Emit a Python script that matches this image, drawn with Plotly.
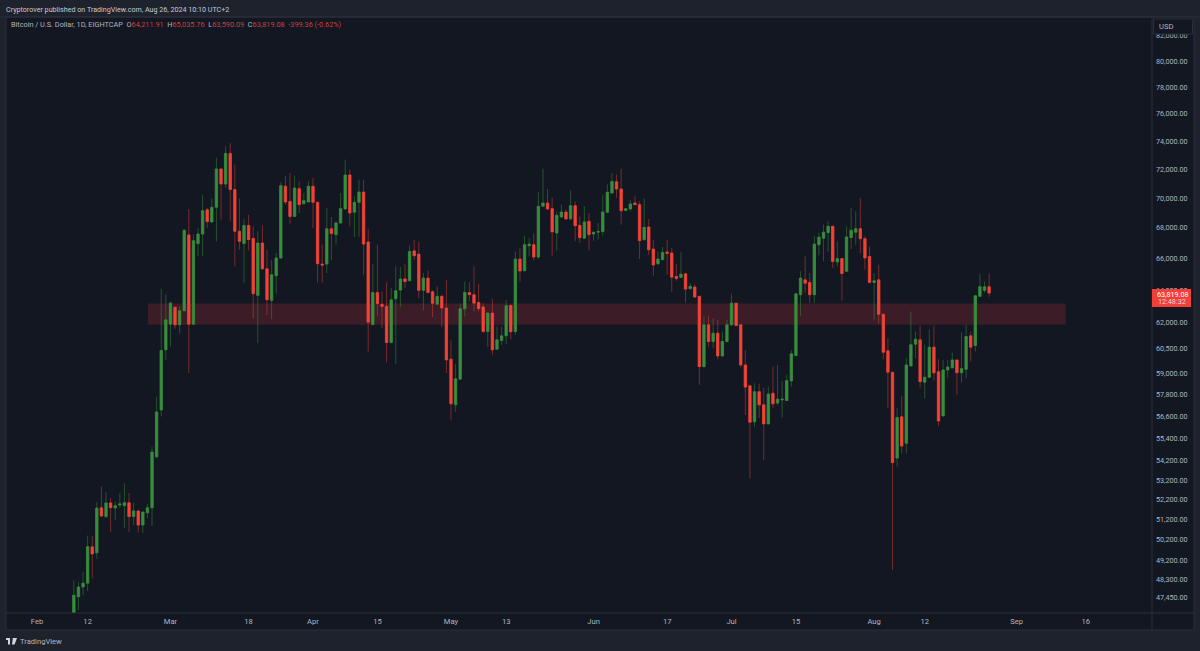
import pandas as pd
import plotly.graph_objects as go

# daily candles, first one is Feb 9 2024
start_date = "2024-02-09"
opens = [45300,47490,47940,48120,49850,49560,51780,51340,52030,51770,51920,51890,52040,51340,51620,50920,51530,51780,54420,56960,
         60390,61920,62950,61880,62730,67540,61920,66970,67600,69220,68400,69380,72020,70970,73120,70590,67780,66970,68170,67310,
         63680,67010,65350,63370,64910,66040,70820,69780,68770,70650,69630,69740,70820,69720,65650,65650,67940,67560,68330,69270,
         71600,69050,69720,70420,67080,61900,63850,63130,63000,60820,63470,64010,64710,64600,66500,66290,63990,64760,63900,63130,
         63620,62900,59840,57240,58690,62850,63850,63720,63240,62970,61480,62590,60430,60940,61220,63060,61480,65970,65230,66830,
         66900,66100,69450,69670,69290,67670,68730,69060,68600,69490,68170,67320,68440,67600,67720,67760,69040,70360,71130,70630,
         69170,69270,69670,69560,67230,68060,66620,65670,65930,66430,66360,64860,64800,65030,64090,64200,63620,59410,61880,60880,
         61380,60030,60880,61880,63200,61880,59510,58310,56310,57980,57240,56190,57890,57340,57520,57480,58590,60050,63720,64650,
         64490,63720,66900,67320,67690,68110,65790,66000,65190,67360,67720,67950,67290,66140,64490,64650,62520,60330,59090,54350,
         56580,55140,59450,60720,60980,58520,58800,60550,59120,56630,59220,59340,59800,59060,59260,61220,60640,63620,63990,64211.91]
closes = [47560,47940,48120,49860,49510,51770,51370,52030,51790,51890,51980,52040,51340,51620,50920,51570,51780,54670,56850,60350,
          62180,63200,61880,62730,67840,61920,67160,67600,69150,68420,69380,72020,70970,73120,70590,67780,67120,68170,67230,63780,
          67010,65350,63410,64970,66040,70860,69740,68770,70700,69560,69830,70820,69720,65670,65590,67940,67630,68330,69290,71600,
          69000,69720,70420,66940,62040,63850,63170,63000,60820,63410,63970,64700,64540,66460,66180,63990,64760,63860,63190,63620,
          62900,59800,57300,58710,62850,63860,63720,63200,62870,61480,62590,60390,60980,61220,63040,61460,65970,65210,66900,66940,
          66100,69450,69670,69270,67740,68840,69060,68600,69490,68150,67360,68400,67560,67710,67760,69060,70400,71150,70630,69150,
          69290,69610,69560,67160,68040,66570,65590,65970,66400,66340,64820,64730,65010,64070,64240,63580,59410,61880,60880,61380,
          60030,60880,61880,63200,61840,59510,58240,56280,57980,57240,56190,57850,57300,57560,57560,58610,60160,63780,64760,64440,
          63720,66940,67390,67720,68110,65820,66000,65050,67410,67850,67950,67290,66040,64490,64590,62520,60250,59090,54110,56540,
          54990,59510,60690,61020,58550,58800,60550,59060,56350,59220,59390,59800,59060,59300,61180,60550,63660,64220,64211,63819.08]
highs = [48260,48180,48640,50400,50370,52080,52860,52600,52280,52080,52530,53030,52530,52030,51670,51570,51980,54940,57700,64090,
         63740,63300,62950,63000,67950,69270,67560,68000,70200,69330,69970,72800,72020,73640,73850,72320,69970,68620,68880,68110,
         67780,68170,66570,65930,66360,71100,71550,71740,71550,71150,70360,71150,71390,69720,66900,69330,68730,68440,70360,72680,
         71970,70130,71270,71270,67950,65670,66900,63920,64500,64130,65500,65460,65670,66830,67230,67080,65080,65230,63990,64260,
         63720,64650,60980,59570,63170,64540,64500,65500,64400,63200,62640,63450,61780,61780,63410,63060,66460,66680,67500,67340,
         67630,70400,72040,70630,70020,69110,69560,69220,70540,69780,68770,69450,69000,67780,68330,70240,70950,71740,71620,72040,
         69330,69850,70170,69780,69970,68600,67230,66460,66750,67230,66680,65670,66410,65080,64460,64360,63660,62380,62430,62280,
         62180,61480,62180,63780,63200,61920,60390,58370,58460,58420,58180,58270,59410,59510,58590,58940,60390,63820,65190,66140,
         65080,67470,67690,68220,68440,68150,67120,66040,68110,69330,69110,70020,67470,66780,65080,65610,62520,61080,59090,57050,
         57750,59900,62690,61480,61840,60690,61620,61820,59840,59800,59800,60230,59800,61420,61880,61480,63660,65010,64540,65035.76]
lows = [45250,46860,47560,47750,48350,49260,51320,51270,50570,51170,51770,50770,50570,50920,50570,50520,51270,50870,54330,56600,
        59800,60570,61640,61340,62700,59040,61880,66140,66140,68000,68330,67120,68550,70700,68440,65500,66570,64440,66530,62280,
        60780,65290,62490,62220,63780,65970,69560,68290,68730,69000,69560,69720,68000,64490,64440,65080,65890,66900,68290,69220,
        68110,67410,67410,64970,60290,61840,62380,61680,59660,60780,59570,62960,64130,64540,65930,63510,62750,63820,62350,63130,
        61740,59040,56410,56860,58650,62380,63300,62690,62690,61380,60550,60100,60390,60680,60740,61020,61280,64540,65190,66140,
        65890,65970,69410,69220,66180,66530,68660,68550,68550,67120,67010,67280,66530,67160,67230,67500,69000,70310,70020,68220,
        69110,69110,69560,65970,67180,66240,64900,65590,65890,64970,63920,64600,64760,63240,64030,63530,58370,59370,60570,60490,
        59840,59990,60840,61820,61780,59370,56680,53290,56010,56500,54250,56150,57050,57240,56530,57460,58270,60030,62430,63850,
        63200,63200,66210,65820,66460,65400,65500,63350,65170,66620,66900,66360,65290,64440,62180,61940,59840,57050,48740,53890,
        54600,54600,59410,59900,58210,57610,58750,58610,56080,56590,58750,59320,57800,58500,58750,59700,60290,63580,63850,63590.09]

band_low = 61880
band_high = 63170
band_dates = ["2024-02-25 03:00", "2024-09-11 16:00"]
view_range = ["2024-01-25 06:00", "2024-09-30 10:00"]

price_ticks = [82000, 80000, 78000, 76000, 74000, 72000, 70000, 68000, 66000, 64000, 62000, 60500, 59000, 57800,
               56600, 55400, 54200, 53200, 52200, 51200, 50200, 49200, 48300, 47450]
date_ticks = ["2024-02-01", "2024-02-12", "2024-03-01", "2024-03-18", "2024-04-01", "2024-04-15", "2024-05-01", "2024-05-13",
              "2024-06-01", "2024-06-17", "2024-07-01", "2024-07-15", "2024-08-01", "2024-08-12", "2024-09-01", "2024-09-16"]
date_labels = ["Feb", "12", "Mar", "18", "Apr", "15", "May", "13", "Jun", "17", "Jul", "15", "Aug", "12", "Sep", "16"]

OUTER = "#1e222d"
PANEL = "#131722"
BORDER = "#2a2e39"
UP = "#388e3c"
DOWN = "#f44336"
TEXT = "#b2b5be"
FONT = "Roboto, sans-serif"

L, R, T, B = 6, 1152, 17, 613


def px(x):
    return (x - L) / (R - L)


def py(y):
    return (B - y) / (B - T)


dates = pd.date_range(start_date, periods=len(opens), freq="D")
body_low = [min(o, c) for o, c in zip(opens, closes)]
body_high = [max(o, c) for o, c in zip(opens, closes)]


# wicks are split at the body so they never run over it
def wick_xy(rising):
    xs, ys = [], []
    for i, d in enumerate(dates):
        if (closes[i] >= opens[i]) != rising:
            continue
        xs += [d, d, None, d, d, None]
        ys += [highs[i], body_high[i], None, body_low[i], lows[i], None]
    return xs, ys


fig = go.Figure()
for rising, color in [(True, "rgba(56,142,60,0.5)"), (False, "rgba(244,67,54,0.45)")]:
    xs, ys = wick_xy(rising)
    fig.add_trace(go.Scatter(x=xs, y=ys, mode="lines", line=dict(color=color, width=1), hoverinfo="skip", showlegend=False))

fig.add_trace(go.Candlestick(
    x=dates, open=opens, high=body_high, low=body_low, close=closes,
    increasing=dict(line=dict(color=UP, width=0.8), fillcolor=UP),
    decreasing=dict(line=dict(color=DOWN, width=0.8), fillcolor=DOWN),
    whiskerwidth=0, hoverinfo="skip", showlegend=False,
))


def rect(x0, y0, x1, y1, fill, line=None, layer="above"):
    return dict(type="rect", xref="paper", yref="paper", x0=px(x0), x1=px(x1), y0=py(y1), y1=py(y0),
                fillcolor=fill, line=dict(color=line or fill, width=1 if line else 0), layer=layer)


def hline(x0, x1, y):
    return dict(type="line", xref="paper", yref="paper", x0=px(x0), x1=px(x1), y0=py(y), y1=py(y),
                line=dict(color=BORDER, width=1), layer="above")


def vline(x, y0, y1):
    return dict(type="line", xref="paper", yref="paper", x0=px(x), x1=px(x), y0=py(y0), y1=py(y1),
                line=dict(color=BORDER, width=1), layer="above")


shapes = [
    rect(6, 17, 1194, 630, PANEL, BORDER, layer="below"),
    dict(type="rect", xref="x", yref="y", x0=band_dates[0], x1=band_dates[1], y0=band_low, y1=band_high,
         fillcolor="rgba(242,54,69,0.18)", line=dict(width=0), layer="below"),
    hline(6, 1194, 613),
    vline(1152, 17, 630),
    hline(0, 1200, 17),
    rect(1153.5, 19, 1192.5, 34, PANEL, BORDER),
    rect(1152, 289, 1191, 307, "#f23f38"),
    # TradingView mark
    rect(6, 638, 10, 640, "#d1d4dc"),
    rect(8, 638, 10, 644.5, "#d1d4dc"),
    dict(type="path", xref="paper", yref="paper", fillcolor="#d1d4dc", line=dict(width=0), layer="above",
         path=f"M {px(12.8)} {py(638)} L {px(17)} {py(638)} L {px(14.6)} {py(644.5)} L {px(12)} {py(644.5)} Z"),
]


def label(x, y, text, size=7.6, color=TEXT, anchor="left"):
    return dict(xref="paper", yref="paper", x=px(x), y=py(y), text=text, showarrow=False, xanchor=anchor, yanchor="middle",
                font=dict(family=FONT, size=size, color=color), align="left", borderpad=0, borderwidth=0)


red = "#c9403b"
legend_text = (
    "Bitcoin / U.S. Dollar, 1D, EIGHTCAP  "
    f"O<span style='color:{red}'>64,211.91</span>  H<span style='color:{red}'>65,035.76</span>  "
    f"L<span style='color:{red}'>63,590.09</span>  C<span style='color:{red}'>63,819.08</span>  "
    f"<span style='color:{red}'>-399.36 (-0.62%)</span>"
)
annotations = [
    label(6, 9, "Cryptorover published on TradingView.com, Aug 26, 2024 10:10 UTC+2", 7.15, "#c8cbd3"),
    label(10.5, 25, legend_text, 7.3, "#b2b5be"),
    label(1159, 26, "USD", 7.6),
    label(1156.5, 294.5, "63,819.08", 7.2, "#ffffff"),
    label(1157.5, 301.5, "12:48:32", 7.2, "#f7d4d2"),
    label(20, 641.5, "TradingView", 7.6, "#b2b5be"),
]

fig.update_layout(
    width=1200, height=651, autosize=False,
    margin=dict(l=L, r=1200 - R, t=T, b=651 - B, pad=0),
    paper_bgcolor=OUTER, plot_bgcolor=PANEL,
    showlegend=False, boxgap=0.25, boxmode="overlay",
    shapes=shapes, annotations=annotations,
    font=dict(family=FONT, size=7.2, color=TEXT),
    xaxis=dict(type="date", range=view_range, rangeslider=dict(visible=False), showgrid=False, zeroline=False,
               showline=False, tickmode="array", tickvals=date_ticks, ticktext=date_labels, ticks="", tickangle=0,
               ticklabelstandoff=2, tickfont=dict(family=FONT, size=7.6, color=TEXT)),
    yaxis=dict(type="log", side="right", autorange=False, range=[4.66970, 4.92170], showgrid=False, zeroline=False,
               showline=False, tickmode="array", tickvals=price_ticks, ticktext=[f"{v:,.2f}" for v in price_ticks],
               ticks="", ticklabelstandoff=3, tickfont=dict(family=FONT, size=7.2, color=TEXT)),
)

# page margin would push the chart off by 8px
fig.write_html("out.html", config=dict(displayModeBar=False),
               post_script="document.body.style.margin='0';document.body.style.overflow='hidden';")
